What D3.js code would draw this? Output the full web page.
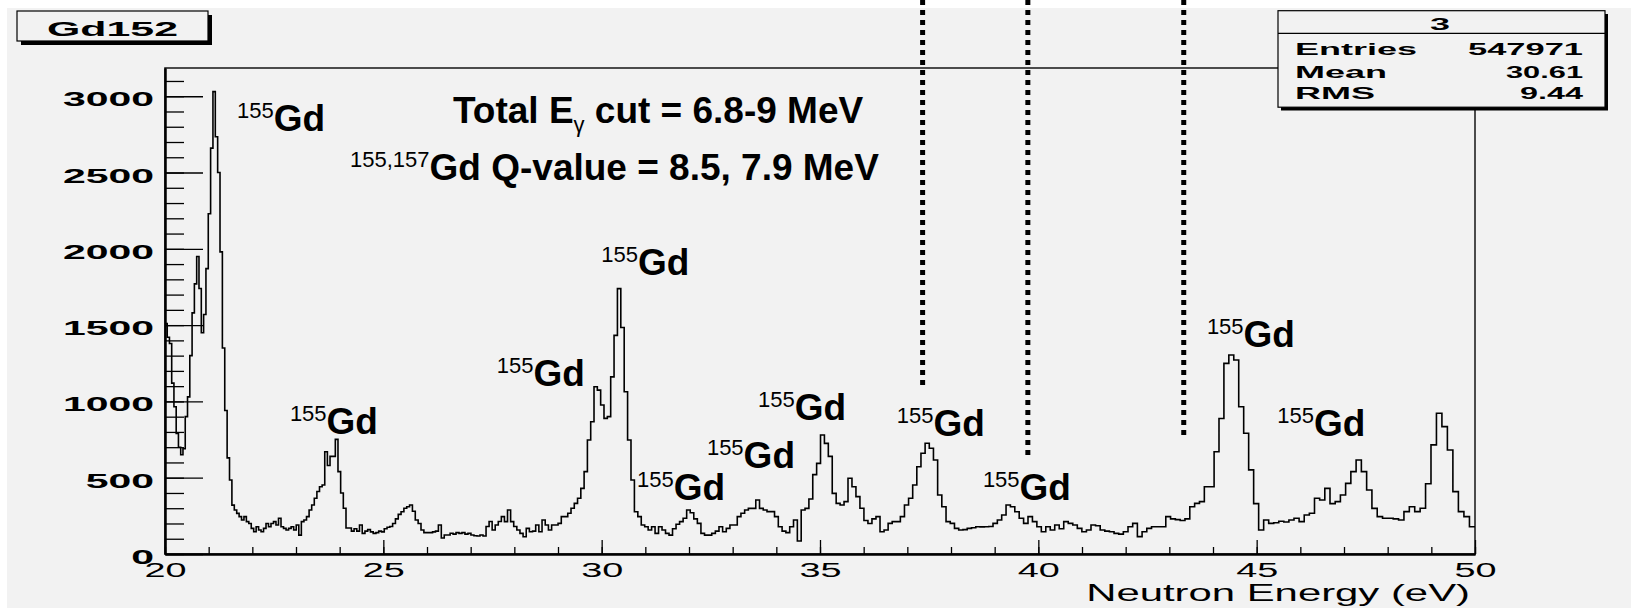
<!DOCTYPE html>
<html>
<head>
<meta charset="utf-8">
<script src="https://cdn.jsdelivr.net/npm/d3@7"></script>
<style>
body { margin: 0; background: #fff; }
text { font-family: "Liberation Sans", Arial, sans-serif; fill: #000; }
</style>
</head>
<body>
<div id="chart-area"></div>
<script>
// counts per bin, 20 - 50 eV, log binned
var counts = [
    1510,1420,1380,1120,965,790,700,650,690,900,
    1030,1300,1580,1770,1950,1740,1450,1570,1870,2230,
    2660,3030,2734,2500,1980,1350,940,630,485,320,
    288,266,245,223,245,212,200,168,146,179,
    157,146,168,200,179,200,212,190,234,179,
    168,157,168,179,157,190,124,212,223,245,
    288,321,365,410,441,452,670,580,640,640,
    751,540,400,300,170,170,150,165,150,190,
    135,150,160,145,135,140,150,145,165,175,
    180,200,230,260,277,300,310,321,280,223,
    200,157,140,140,140,145,150,190,105,125,
    125,136,130,140,135,140,130,135,125,120,
    118,125,118,180,213,157,190,213,245,212,
    288,212,180,157,135,113,168,146,150,190,
    146,223,190,157,190,190,201,245,245,267,
    300,332,365,430,540,747,867,1096,1074,976,
    889,900,1161,1433,1739,1484,1063,747,485,277,
    245,190,179,157,179,135,179,157,135,124,
    165,195,212,234,288,270,230,201,135,124,
    124,135,150,179,146,168,190,190,245,267,
    288,299,299,354,299,288,278,278,245,179,
    150,140,179,223,85,288,299,360,520,594,
    780,725,640,397,332,321,343,496,441,376,
    300,220,200,230,245,146,157,201,212,212,
    245,321,365,452,572,660,726,693,616,387,
    310,212,201,168,157,160,168,172,179,178,
    179,180,201,223,256,321,310,277,234,201,
    245,212,179,146,179,157,190,165,212,201,
    190,168,146,157,190,185,157,150,146,135,
    130,146,179,201,114,146,168,179,179,179,
    245,230,225,220,230,310,332,343,441,441,
    670,888,1249,1304,1271,965,791,551,330,157,
    223,201,205,215,210,223,234,212,256,267,
    365,354,430,330,343,387,463,540,616,540,
    419,299,245,234,234,230,223,278,310,278,
    300,460,715,922,835,682,409,278,245,179
];
var xTicks = [20, 25, 30, 35, 40, 45, 50];
var yTicks = [0, 500, 1000, 1500, 2000, 2500, 3000];
var statNames = ["Entries", "Mean", "RMS"];
var statValues = ["547971", "30.61", "9.44"];
// resonance labels (eV, counts)
var peakLabels = [
    {e: 21.65, c: 2774, sup: "155"},
    {e: 22.86, c: 786, sup: "155"},
    {e: 27.60, c: 1104, sup: "155"},
    {e: 29.99, c: 1828, sup: "155"},
    {e: 30.81, c: 354, sup: "155"},
    {e: 32.41, c: 563, sup: "155"},
    {e: 33.58, c: 878, sup: "155"},
    {e: 36.76, c: 773, sup: "155"},
    {e: 38.73, c: 354, sup: "155"},
    {e: 43.86, c: 1356, sup: "155"},
    {e: 45.47, c: 773, sup: "155"}
];
var cutLines = [
    {e: 37.35, c: 1074},
    {e: 39.76, c: 649},
    {e: 43.33, c: 753}
];

var W = 1631, H = 608;
var svg = d3.select("#chart-area").append("svg")
    .attr("width", W)
    .attr("height", H);

// canvas
svg.append("rect").attr("x", 7).attr("y", 8)
    .attr("width", W - 7).attr("height", H - 8)
    .attr("fill", "#f2f2f2");

var x = d3.scaleLinear().domain([20, 50]).range([165, 1475]);
var y = d3.scaleLinear().domain([0, 3185]).range([554, 68]);

// frame
svg.append("rect")
    .attr("x", x(20)).attr("y", y(3185))
    .attr("width", x(50) - x(20)).attr("height", y(0) - y(3185))
    .attr("fill", "none").attr("stroke", "#222").attr("stroke-width", 1.6);

// histogram
var n = counts.length;
var edges = d3.range(n + 1).map(function(i) { return 20 * Math.pow(2.5, i / n); });
var pts = counts.map(function(c, i) { return [edges[i], c]; });
pts.push([edges[n], counts[n - 1]]);
var line = d3.line()
    .x(function(d) { return x(d[0]); })
    .y(function(d) { return y(d[1]); })
    .curve(d3.curveStepAfter);
svg.append("path")
    .datum(pts)
    .attr("d", line)
    .attr("fill", "none")
    .attr("stroke", "#000")
    .attr("stroke-width", 1.6);

// y axis
var yMinor = svg.append("g")
    .attr("transform", "translate(" + x(20) + ",0)")
    .call(d3.axisLeft(y).tickValues(d3.range(0, 3185, 100)).tickSize(-19).tickSizeOuter(0).tickFormat(""));
var yaxg = svg.append("g")
    .attr("transform", "translate(" + x(20) + ",0)")
    .call(d3.axisLeft(y).tickValues(yTicks).tickSize(-38).tickSizeOuter(0).tickFormat(d3.format("d")));
yaxg.selectAll("text")
    .attr("x", -11 / 1.95)
    .attr("dy", 9.5)
    .attr("transform", "scale(1.95,1)")
    .attr("font-size", 21)
    .attr("font-weight", "bold")
    .attr("font-family", "Liberation Sans, Arial, sans-serif");

// x axis
var xMinor = svg.append("g")
    .attr("transform", "translate(0," + y(0) + ")")
    .call(d3.axisBottom(x).tickValues(d3.range(20, 50.5, 1)).tickSize(-7).tickSizeOuter(0).tickFormat(""));
var xaxg = svg.append("g")
    .attr("transform", "translate(0," + y(0) + ")")
    .call(d3.axisBottom(x).tickValues(xTicks).tickSize(-14).tickSizeOuter(0));
xaxg.selectAll("text")
    .attr("x", 0)
    .attr("y", 23)
    .attr("dy", 0)
    .attr("transform", "scale(1.94,1)")
    .attr("font-size", 19.5)
    .attr("font-family", "Liberation Sans, Arial, sans-serif");

svg.selectAll(".tick line").attr("stroke", "#000").attr("stroke-width", 1.3);
svg.selectAll(".domain").attr("stroke", "#000").attr("stroke-width", 2);

// axis title
svg.append("g")
    .attr("transform", "translate(1470,601) scale(1.82,1)")
    .append("text")
    .attr("text-anchor", "end")
    .attr("font-size", 23)
    .text("Neutron Energy (eV)");

// title box
svg.append("rect").attr("x", 21).attr("y", 15).attr("width", 191).attr("height", 30).attr("fill", "#000");
svg.append("rect").attr("x", 17).attr("y", 11).attr("width", 191).attr("height", 30)
    .attr("fill", "#f2f2f2").attr("stroke", "#000").attr("stroke-width", 1.2);
svg.append("text")
    .attr("x", 47).attr("y", 36)
    .attr("font-size", 21)
    .attr("font-weight", "bold")
    .attr("textLength", 131)
    .attr("lengthAdjust", "spacingAndGlyphs")
    .text("Gd152");

// stats box
svg.append("rect").attr("x", 1281).attr("y", 14).attr("width", 327).attr("height", 96.5).attr("fill", "#000");
svg.append("rect").attr("x", 1278).attr("y", 10.7).attr("width", 327).attr("height", 96.5)
    .attr("fill", "#f2f2f2").attr("stroke", "#000").attr("stroke-width", 1.2);
svg.append("line").attr("x1", 1278).attr("x2", 1605).attr("y1", 33.3).attr("y2", 33.3)
    .attr("stroke", "#000").attr("stroke-width", 1.2);
svg.append("text")
    .attr("x", 1430).attr("y", 30)
    .attr("font-size", 17)
    .attr("font-weight", "bold")
    .attr("textLength", 20)
    .attr("lengthAdjust", "spacingAndGlyphs")
    .text("3");
var rowBase = [54.5, 77.5, 99];
var nameLen = [122, 92, 80];
var valLen = [115, 77, 63];
statNames.forEach(function(s, i) {
    svg.append("text")
        .attr("x", 1295).attr("y", rowBase[i])
        .attr("font-size", 16.5)
        .attr("font-weight", "bold")
        .attr("textLength", nameLen[i])
        .attr("lengthAdjust", "spacingAndGlyphs")
        .text(s);
    svg.append("text")
        .attr("x", 1583 - valLen[i]).attr("y", rowBase[i])
        .attr("font-size", 16.5)
        .attr("font-weight", "bold")
        .attr("textLength", valLen[i])
        .attr("lengthAdjust", "spacingAndGlyphs")
        .text(statValues[i]);
});

// dotted cut lines
svg.selectAll(".cut")
    .data(cutLines)
    .enter()
    .append("line")
    .attr("class", "cut")
    .attr("x1", function(d) { return x(d.e); })
    .attr("x2", function(d) { return x(d.e); })
    .attr("y1", 0)
    .attr("y2", function(d) { return y(d.c); })
    .attr("stroke", "#000")
    .attr("stroke-width", 5)
    .attr("stroke-dasharray", "5,5");

// resonance labels
var lab = svg.selectAll(".plab")
    .data(peakLabels)
    .enter()
    .append("text")
    .attr("class", "plab")
    .attr("x", function(d) { return x(d.e); })
    .attr("y", function(d) { return y(d.c); });
lab.append("tspan")
    .attr("font-size", 22)
    .attr("dy", -13)
    .text(function(d) { return d.sup; });
lab.append("tspan")
    .attr("font-size", 37)
    .attr("font-weight", "bold")
    .attr("dy", 13)
    .text("Gd");

// cut text
var t1 = svg.append("text")
    .attr("x", x(26.595)).attr("y", y(2824))
    .attr("font-size", 37).attr("font-weight", "bold");
t1.append("tspan").text("Total E");
t1.append("tspan").attr("font-size", 22).attr("font-weight", "normal").attr("dy", 9).text("\u03b3");
t1.append("tspan").attr("dy", -9).text(" cut = 6.8-9 MeV");

var t2 = svg.append("text")
    .attr("x", x(24.237)).attr("y", y(2453));
t2.append("tspan").attr("font-size", 22).attr("dy", -13).text("155,157");
t2.append("tspan").attr("font-size", 37).attr("font-weight", "bold").attr("dy", 13).text("Gd Q-value = 8.5, 7.9 MeV");
</script>
</body>
</html>
